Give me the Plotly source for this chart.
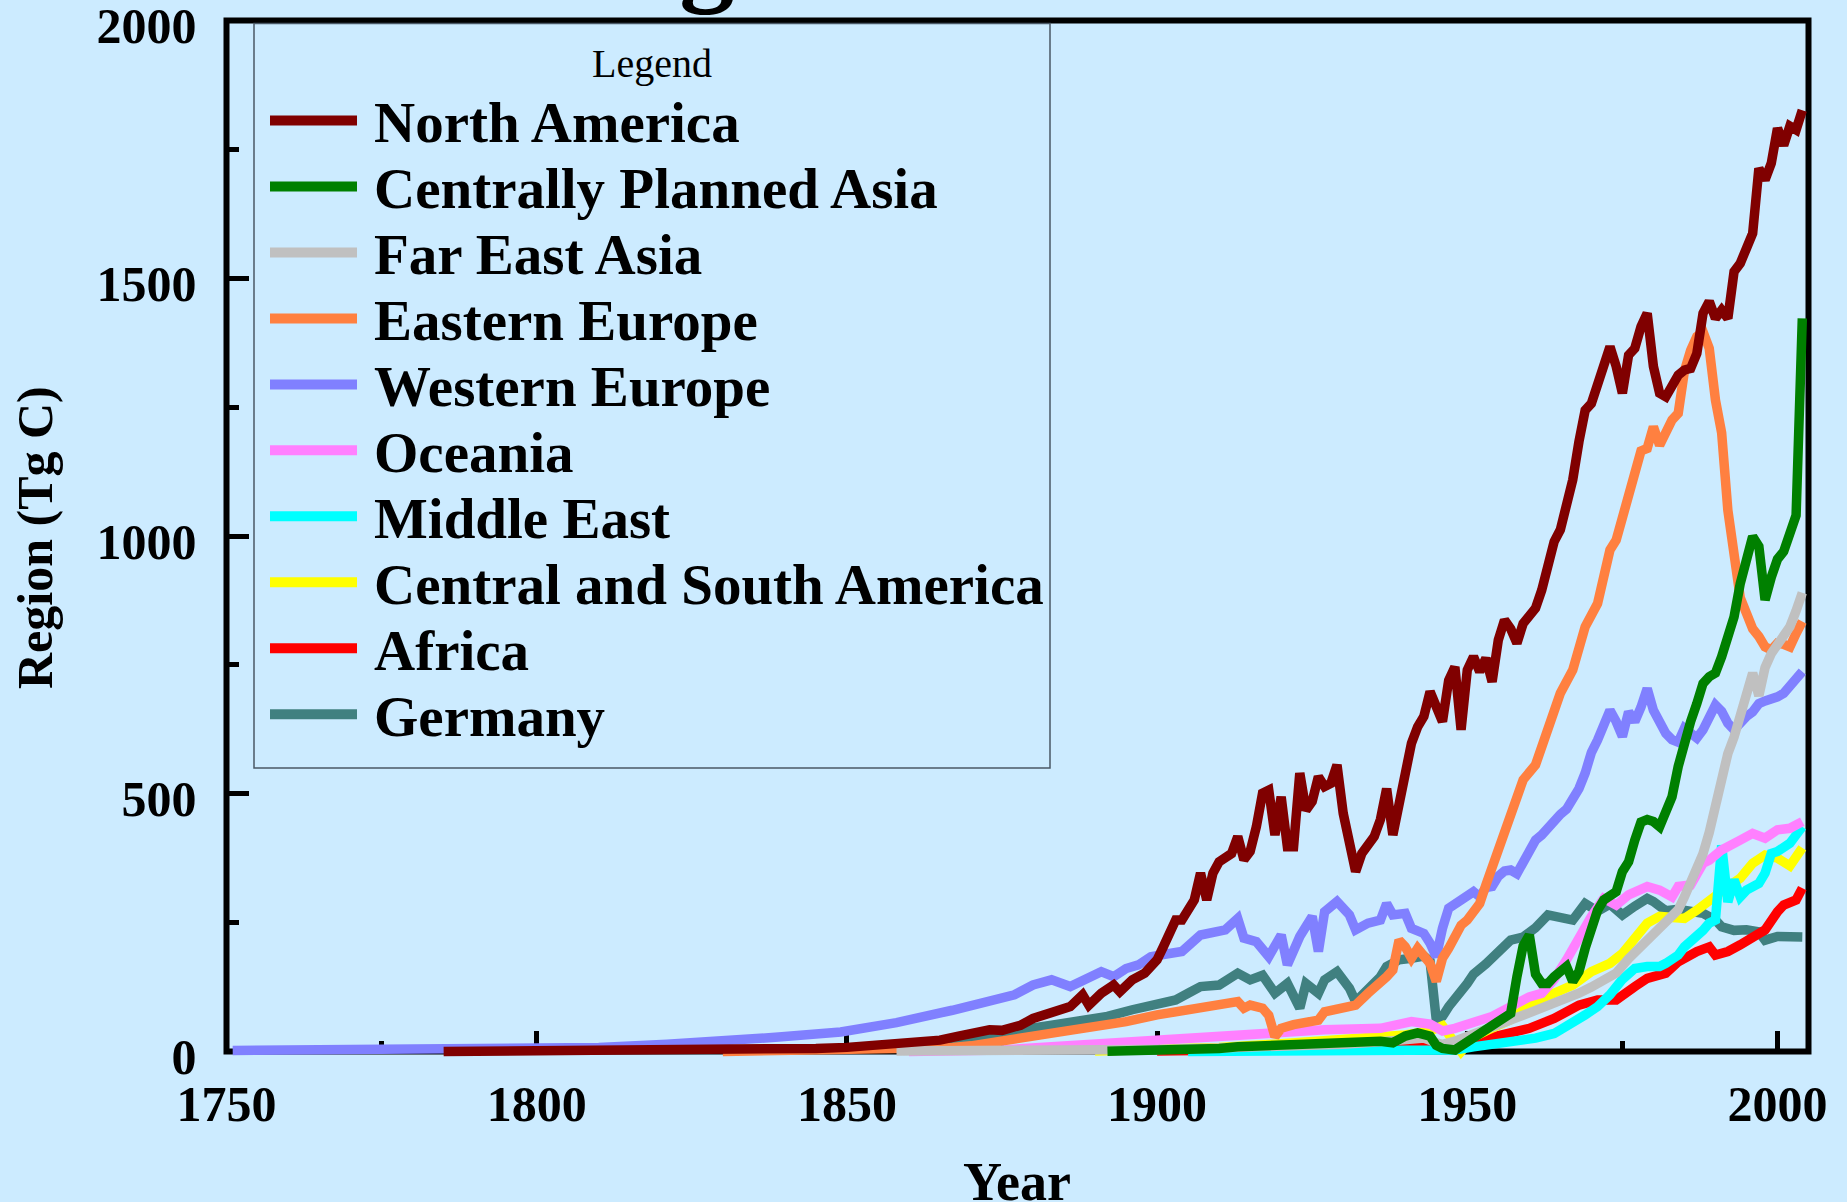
import plotly.graph_objects as go

# Annual fossil-fuel carbon emissions by region (Tg C)
na_year = [1785, 1800, 1815, 1830, 1840, 1845, 1850, 1855, 1860, 1865, 1868, 1870, 1873, 1875, 1878,
           1880, 1883, 1886, 1888, 1889, 1891, 1893, 1894, 1896, 1898, 1900, 1901, 1903, 1904, 1906,
           1907, 1908, 1909, 1910, 1912, 1913, 1914, 1915, 1916, 1917, 1918, 1919, 1920, 1921, 1922,
           1923, 1924, 1925, 1926, 1927, 1928, 1929, 1930, 1931, 1932, 1933, 1935, 1936, 1937, 1938,
           1939, 1940, 1941, 1942, 1943, 1944, 1945, 1946, 1947, 1948, 1949, 1950, 1951, 1952, 1953,
           1954, 1955, 1956, 1957, 1958, 1959, 1960, 1961, 1962, 1963, 1964, 1965, 1966, 1967, 1968,
           1969, 1970, 1971, 1972, 1973, 1974, 1975, 1976, 1977, 1978, 1979, 1980, 1981, 1982, 1983,
           1984, 1985, 1986, 1987, 1988, 1989, 1990, 1991, 1992, 1993, 1994, 1995, 1996, 1997, 1998,
           1999, 2000, 2001, 2002, 2003, 2004]
na_val = [0, 0.5, 1, 2, 4, 6, 8, 12, 16, 22, 30, 36, 42, 41, 51,
          64, 77, 87, 110, 90, 113, 129, 116, 139, 152, 178, 203, 255, 255, 294,
          346, 294, 346, 368, 384, 417, 372, 388, 436, 501, 507, 420, 494, 397, 397,
          540, 468, 485, 533, 514, 520, 556, 462, 400, 349, 384, 417, 450, 510, 420,
          481, 546, 598, 630, 650, 698, 670, 640, 720, 746, 624, 740, 766, 737, 763,
          717, 798, 837, 820, 792, 830, 844, 860, 895, 940, 989, 1012, 1063, 1109, 1183,
          1244, 1257, 1290, 1329, 1367, 1329, 1277, 1351, 1364, 1406, 1432, 1329, 1277, 1270, 1290,
          1312, 1322, 1325, 1354, 1432, 1455, 1422, 1438, 1422, 1513, 1529, 1558, 1587, 1713, 1691,
          1723, 1791, 1758, 1795, 1788, 1826]

cpa_year = [1892, 1900, 1905, 1910, 1913, 1918, 1924, 1929, 1934, 1936, 1938, 1940, 1942, 1944,
            1945, 1946, 1948, 1950, 1952, 1953, 1955, 1957, 1958, 1959, 1960, 1961, 1962, 1963,
            1964, 1966, 1967, 1968, 1969, 1970, 1971, 1972, 1973, 1974, 1975, 1976, 1977, 1978,
            1979, 1980, 1981, 1982, 1983, 1984, 1985, 1986, 1987, 1988, 1989, 1990, 1991, 1992,
            1993, 1994, 1995, 1996, 1997, 1998, 1999, 2000, 2001, 2002, 2003, 2004]
cpa_val = [0.5, 2, 2, 6, 9, 11, 14, 17, 21, 20, 17, 30, 36, 30,
           12, 6, 3, 18, 33, 42, 55, 74, 145, 205, 226, 150, 132, 132,
           145, 165, 136, 155, 200, 245, 274, 294, 300, 310, 349, 368, 410, 445,
           450, 446, 436, 462, 494, 553, 604, 640, 675, 714, 727, 734, 766, 798,
           843, 908, 960, 999, 980, 876, 920, 955, 970, 1000, 1040, 1422]

fea_year = [1858, 1866, 1877, 1890, 1900, 1910, 1920, 1930, 1937, 1940, 1943, 1945, 1946, 1948,
            1950, 1953, 1955, 1958, 1960, 1963, 1965, 1968, 1970, 1972, 1974, 1976, 1978, 1980,
            1982, 1984, 1985, 1986, 1987, 1988, 1989, 1990, 1991, 1992, 1993, 1994, 1995, 1996,
            1997, 1998, 1999, 2000, 2001, 2002, 2003, 2004]
fea_val = [1, 1, 1, 2, 4, 7, 10, 14, 20, 24, 26, 17, 14, 20,
           30, 45, 55, 66, 75, 88, 97, 113, 125, 138, 152, 180, 205, 229,
           252, 275, 300, 325, 352, 384, 425, 475, 530, 578, 610, 652, 705, 734,
           690, 745, 772, 790, 805, 824, 855, 890]

ee_year = [1830, 1840, 1850, 1860, 1867, 1870, 1875, 1880, 1885, 1890, 1895, 1900, 1903, 1907,
           1909, 1911, 1913, 1914, 1915, 1917, 1918, 1919, 1920, 1922, 1924, 1926, 1927, 1929,
           1930, 1932, 1934, 1936, 1937, 1938, 1939, 1940, 1941, 1942, 1944, 1945, 1946, 1947,
           1948, 1949, 1950, 1952, 1953, 1955, 1957, 1958, 1959, 1961, 1962, 1963, 1964, 1965,
           1967, 1968, 1969, 1971, 1972, 1973, 1974, 1975, 1976, 1977, 1978, 1979, 1980, 1981,
           1982, 1983, 1984, 1985, 1986, 1987, 1988, 1989, 1990, 1991, 1992, 1993, 1994, 1995,
           1996, 1997, 1998, 1999, 2000, 2001, 2002, 2003, 2004]
ee_val = [0, 1, 3, 6, 8, 11, 20, 30, 42, 48, 58, 71, 77, 81,
          87, 90, 97, 84, 90, 84, 70, 29, 45, 52, 55, 61, 77, 84,
          87, 90, 113, 132, 145, 158, 216, 203, 181, 200, 171, 136, 181, 200,
          225, 245, 255, 287, 323, 391, 465, 498, 527, 556, 590, 630, 660, 695,
          740, 779, 824, 869, 921, 973, 992, 1037, 1090, 1134, 1165, 1170, 1212, 1176,
          1202, 1225, 1238, 1320, 1360, 1387, 1396, 1364, 1264, 1200, 1050, 950, 880, 850,
          820, 805, 785, 779, 792, 790, 785, 811, 834]

we_year = [1751, 1770, 1790, 1800, 1810, 1821, 1830, 1839, 1849, 1858, 1867, 1872, 1877, 1880,
           1883, 1886, 1889, 1891, 1893, 1895, 1897, 1899, 1902, 1904, 1907, 1909, 1911, 1913,
           1914, 1916, 1918, 1920, 1921, 1923, 1925, 1926, 1927, 1929, 1931, 1932, 1934, 1936,
           1937, 1938, 1940, 1941, 1943, 1944, 1945, 1946, 1947, 1949, 1951, 1952, 1953, 1954,
           1955, 1956, 1957, 1958, 1959, 1960, 1961, 1962, 1963, 1964, 1965, 1966, 1967, 1968,
           1969, 1970, 1971, 1972, 1973, 1974, 1975, 1976, 1977, 1978, 1979, 1980, 1981, 1982,
           1983, 1984, 1985, 1986, 1987, 1988, 1989, 1990, 1991, 1992, 1993, 1994, 1995, 1996,
           1997, 1998, 1999, 2000, 2001, 2002, 2003, 2004]
we_val = [2, 3, 4, 5, 8, 14, 19, 28, 38, 56, 80, 93, 110, 129,
          139, 126, 145, 155, 145, 161, 168, 184, 190, 194, 226, 229, 236, 258,
          220, 213, 184, 226, 168, 223, 262, 194, 271, 291, 265, 236, 249, 255,
          287, 265, 268, 239, 229, 210, 184, 239, 278, 294, 310, 300, 318, 320,
          340, 350, 352, 345, 365, 385, 410, 420, 435, 450, 460, 470, 490, 510,
          540, 580, 604, 630, 662, 640, 611, 659, 640, 668, 704, 662, 640, 617,
          605, 600, 627, 615, 608, 624, 653, 672, 660, 637, 624, 640, 650, 659,
          675, 680, 682, 688, 695, 708, 724, 737]

oc_year = [1860, 1866, 1875, 1883, 1892, 1901, 1910, 1918, 1927, 1936, 1938, 1941, 1944, 1946,
           1948, 1951, 1954, 1957, 1960, 1962, 1964, 1966, 1968, 1970, 1972, 1974, 1976, 1978,
           1979, 1981, 1983, 1984, 1986, 1988, 1989, 1991, 1993, 1994, 1996, 1998, 2000, 2002,
           2004]
oc_val = [0, 1, 3, 9, 16, 22, 29, 35, 42, 45, 51, 58, 53, 40,
          45, 58, 68, 87, 106, 113, 140, 178, 223, 262, 297, 284, 304, 315,
          320, 313, 300, 320, 323, 365, 371, 391, 401, 410, 423, 414, 430, 433,
          446]

me_year = [1905, 1920, 1936, 1941, 1944, 1946, 1948, 1951, 1954, 1958, 1961, 1964, 1967, 1969,
           1971, 1973, 1975, 1976, 1977, 1979, 1981, 1982, 1984, 1985, 1987, 1988, 1989, 1990,
           1991, 1992, 1993, 1994, 1995, 1997, 1998, 1999, 2000, 2001, 2002, 2003, 2004]
me_val = [0, 1, 3, 3, 1, 2, 3, 9, 13, 19, 26, 35, 55, 71,
          87, 110, 140, 150, 161, 165, 165, 171, 187, 203, 222, 235, 249, 255,
          400, 290, 333, 300, 313, 326, 346, 384, 388, 395, 404, 420, 436]

csa_year = [1890, 1900, 1910, 1920, 1930, 1940, 1944, 1946, 1949, 1951, 1953, 1955, 1957, 1959,
            1961, 1964, 1967, 1970, 1973, 1975, 1977, 1979, 1981, 1983, 1985, 1987, 1989, 1992,
            1994, 1996, 1998, 2000, 2002, 2003, 2004]
csa_val = [1, 4, 8, 15, 22, 32, 40, 50, 0, 28, 40, 50, 62, 80,
           97, 113, 129, 155, 171, 190, 220, 249, 262, 258, 258, 274, 294, 320,
           336, 365, 381, 375, 360, 375, 395]

af_year = [1900, 1920, 1935, 1945, 1951, 1955, 1960, 1964, 1968, 1971, 1974, 1977, 1979, 1982,
           1984, 1987, 1989, 1990, 1992, 1994, 1996, 1998, 2000, 2001, 2003, 2004]
af_val = [1, 3, 5, 8, 19, 32, 45, 64, 90, 100, 100, 126, 142, 152,
          174, 194, 203, 187, 194, 207, 219, 236, 271, 284, 294, 317]

de_year = [1850, 1860, 1870, 1875, 1878, 1883, 1888, 1892, 1896, 1900, 1903, 1905, 1907, 1910,
           1913, 1915, 1917, 1919, 1921, 1923, 1924, 1926, 1927, 1929, 1931, 1932, 1934, 1936,
           1937, 1939, 1941, 1943, 1944, 1945, 1946, 1947, 1950, 1951, 1953, 1955, 1957, 1959,
           1961, 1963, 1965, 1967, 1969, 1971, 1973, 1975, 1977, 1979, 1980, 1982, 1984, 1986,
           1988, 1990, 1991, 1993, 1995, 1997, 1998, 2000, 2002, 2004]
de_val = [5, 12, 22, 30, 42, 51, 61, 68, 81, 93, 100, 113, 126, 129,
          152, 139, 148, 113, 132, 84, 132, 113, 139, 155, 123, 97, 119, 145,
          165, 178, 181, 185, 175, 62, 68, 87, 132, 150, 170, 195, 216, 222,
          240, 265, 258, 255, 287, 272, 286, 265, 282, 297, 291, 273, 276, 274,
          268, 255, 242, 235, 236, 232, 216, 223, 224, 222]

region_names = ["North America", "Centrally Planned Asia", "Far East Asia", "Eastern Europe",
                "Western Europe", "Oceania", "Middle East", "Central and South America",
                "Africa", "Germany"]
region_colors = ["#800000", "#008000", "#C0C0C0", "#FF8040", "#8080FF",
                 "#FF80FF", "#00FFFF", "#FFFF00", "#FF0000", "#408080"]
region_years = [na_year, cpa_year, fea_year, ee_year, we_year, oc_year, me_year, csa_year, af_year, de_year]
region_vals = [na_val, cpa_val, fea_val, ee_val, we_val, oc_val, me_val, csa_val, af_val, de_val]

x_ticks = [1750, 1800, 1850, 1900, 1950, 2000]
y_ticks = [0, 500, 1000, 1500, 2000]

# ---- page geometry (pixels) ----
FIG_W, FIG_H = 1847, 1202
ML, MR, MT, MB = 217, 28, 10, 140
PW = FIG_W - ML - MR
PH = FIG_H - MT - MB
FRAME_L, FRAME_R, FRAME_T, FRAME_B = 226.5, 1808.5, 20.5, 1051.5
X_LO, X_HI, Y_LO, Y_HI = 1750, 2005, 0, 2000

x_px = (FRAME_R - FRAME_L) / (X_HI - X_LO)
y_px = (FRAME_B - FRAME_T) / (Y_HI - Y_LO)
x_range = [X_LO - (FRAME_L - ML) / x_px, X_HI + (ML + PW - FRAME_R) / x_px]
y_range = [Y_LO - (MT + PH - FRAME_B) / y_px, Y_HI + (FRAME_T - MT) / y_px]


def paper_x(p):
    return (p - ML) / PW


def paper_y(p):
    return (MT + PH - p) / PH


BG = "#CCEBFF"
SERIF = "Liberation Serif, Times New Roman, serif"

fig = go.Figure()

# later regions sit underneath, North America on top
for name, color, yrs, vals in reversed(list(zip(region_names, region_colors, region_years, region_vals))):
    fig.add_trace(go.Scatter(x=yrs, y=vals, mode="lines", name=name,
                             line=dict(color=color, width=9.5), showlegend=False,
                             hoverinfo="x+y+name"))

shapes = []
annotations = []

# plot frame
shapes.append(dict(type="rect", xref="x", yref="y", x0=X_LO, x1=X_HI, y0=Y_LO, y1=Y_HI,
                   line=dict(color="black", width=6), layer="below"))

# legend box
LEG_L, LEG_R, LEG_T, LEG_B = 254, 1050, 23.5, 768
shapes.append(dict(type="rect", xref="paper", yref="paper",
                   x0=paper_x(LEG_L), x1=paper_x(LEG_R), y0=paper_y(LEG_B), y1=paper_y(LEG_T),
                   line=dict(color="#4a5866", width=1.5), layer="above"))
annotations.append(dict(text="Legend", xref="paper", yref="paper",
                        x=paper_x(652), y=paper_y(63), xanchor="center", yanchor="middle",
                        showarrow=False, font=dict(family=SERIF, size=40, color="black")))
ROW0, ROW_STEP = 122.5, 65.97
for i, (name, color) in enumerate(zip(region_names, region_colors)):
    yc = ROW0 + ROW_STEP * i
    shapes.append(dict(type="line", xref="paper", yref="paper",
                       x0=paper_x(270), x1=paper_x(357), y0=paper_y(yc - 2), y1=paper_y(yc - 2),
                       line=dict(color=color, width=10), layer="above"))
    annotations.append(dict(text=name, xref="paper", yref="paper",
                            x=paper_x(371.5), y=paper_y(yc), xanchor="left", yanchor="middle",
                            showarrow=False,
                            font=dict(family=SERIF, size=57, color="black", weight="bold")))

# axis titles
annotations.append(dict(text="Year", xref="paper", yref="paper",
                        x=paper_x(1016.5), y=paper_y(1182), xanchor="center", yanchor="middle",
                        showarrow=False, font=dict(family=SERIF, size=54, color="black", weight="bold")))
annotations.append(dict(text="Region (Tg C)", xref="paper", yref="paper", textangle=-90,
                        x=paper_x(35), y=paper_y(538), xanchor="center", yanchor="middle",
                        showarrow=False, font=dict(family=SERIF, size=50, color="black", weight="bold")))

# chart title, sitting above the top edge of the page
annotations.append(dict(text="Regional Emissions", xref="paper", yref="paper",
                        x=paper_x(549), y=paper_y(17), xanchor="left", yanchor="bottom",
                        showarrow=False, font=dict(family=SERIF, size=110, color="black", weight="bold")))

tick_font = dict(family=SERIF, size=50, color="black", weight="bold")

fig.update_layout(
    width=FIG_W, height=FIG_H,
    margin=dict(l=ML, r=MR, t=MT, b=MB, autoexpand=False),
    paper_bgcolor=BG, plot_bgcolor=BG,
    showlegend=False,
    shapes=shapes, annotations=annotations,
    xaxis=dict(range=x_range, anchor="free", position=(MT + PH - FRAME_B) / PH,
               showline=False, showgrid=False, zeroline=False,
               tickmode="array", tickvals=x_ticks, ticktext=[str(v) for v in x_ticks],
               ticks="inside", ticklen=21, tickwidth=5, tickcolor="black",
               minor=dict(tickmode="linear", tick0=1750, dtick=25, ticks="inside",
                          ticklen=11, tickwidth=5, tickcolor="black", showgrid=False),
               tickfont=tick_font, ticklabelstandoff=18, ticklabeloverflow="allow",
               layer="below traces"),
    yaxis=dict(range=y_range, anchor="free", position=(FRAME_L - ML) / PW,
               showline=False, showgrid=False, zeroline=False,
               tickmode="array", tickvals=y_ticks, ticktext=[str(v) for v in y_ticks],
               ticks="inside", ticklen=21, tickwidth=5, tickcolor="black",
               minor=dict(tickmode="linear", tick0=0, dtick=250, ticks="inside",
                          ticklen=11, tickwidth=5, tickcolor="black", showgrid=False),
               tickfont=tick_font, ticklabelstandoff=30, ticklabelshift=5,
               ticklabeloverflow="allow", layer="below traces"),
)

fig.write_html("out.html")
